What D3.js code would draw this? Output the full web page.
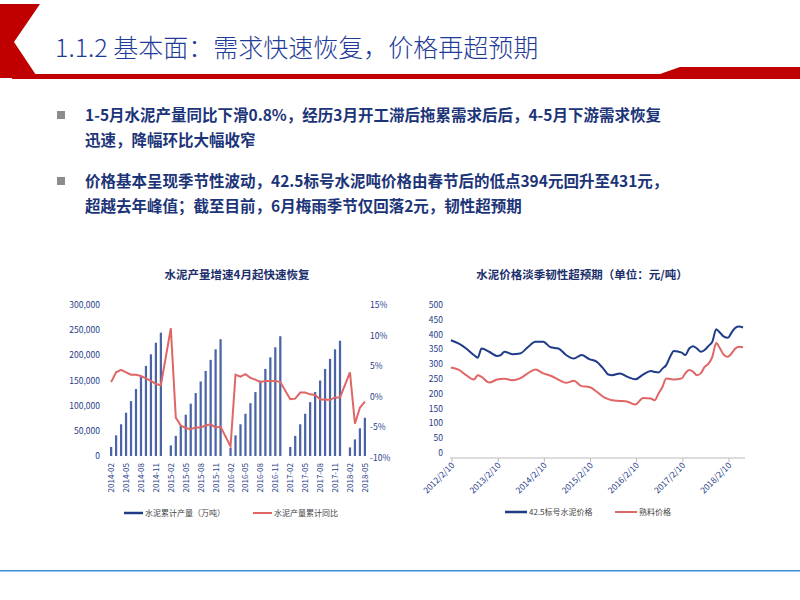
<!DOCTYPE html>
<html><head><meta charset="utf-8">
<script src="https://cdn.jsdelivr.net/npm/d3@7"></script>
<style>body{margin:0;background:#fff}svg{display:block;font-family:"Noto Sans CJK SC","Noto Sans",sans-serif}</style>
</head><body><svg id="c" width="800" height="600"></svg>
<script>
// left chart: monthly, January has no data
const months = [];
for (let y = 2014; y <= 2018; y++) for (let m = 1; m <= 12; m++) {
  if ((y === 2014 && m < 2) || (y === 2018 && m > 5)) continue;
  months.push(y + "-" + String(m).padStart(2, "0"));
}
const output = [18,41,63,86,109,133,157,179,202,225,245, null,
  21,40,61,82,104,125,148,169,191,212,232, null,
  16,41,63,84,105,127,150,173,196,216,238, null,
  18,40,63,84,107,127,150,173,193,212,229, null,
  17,33,55,76].map(v => v == null ? null : v * 1000);
const growth = [2.4,4.0,4.4,4.0,3.6,3.6,3.4,3.0,2.6,2.1,1.9, null,
  11.2,-3.4,-4.7,-5.1,-5.3,-5.0,-5.0,-4.7,-4.5,-5.0,-4.9, null,
  -8.1,3.6,3.3,3.7,3.1,2.8,2.4,2.6,2.6,2.6,2.4, null,
  -0.4,-0.3,0.7,0.7,0.4,0.3,-0.4,-0.5,-0.5,-0.1,-0.1, null,
  4.0,-4.4,-1.8,-0.8];
const leftTicks = [0,50000,100000,150000,200000,250000,300000];
const rightTicks = [-10,-5,0,5,10,15];

// right chart: prices
const priceDates = ["2012-02","2012-04","2012-06","2012-08","2012-09","2012-10","2012-12","2013-02","2013-03","2013-04","2013-06","2013-08","2013-10","2013-12","2014-02","2014-04","2014-06","2014-08","2014-10","2014-12","2015-02","2015-04","2015-06","2015-07","2015-08","2015-10","2015-12","2016-02","2016-04","2016-06","2016-07","2016-08","2016-09","2016-10","2016-11","2016-12","2017-02","2017-03","2017-04","2017-05","2017-06","2017-07","2017-08","2017-09","2017-10","2017-11","2017-12","2018-01","2018-02","2018-03","2018-04","2018-05","2018-06"];
const cement = [381,370,353,331,322,353,342,328,331,342,334,336,357,376,376,357,353,331,319,331,317,308,280,265,263,269,257,249,265,277,274,272,285,297,325,345,339,331,353,361,353,342,348,362,376,418,406,393,389,406,423,427,424];
const clinker = [289,282,263,248,263,257,238,248,250,251,246,252,269,282,269,261,248,237,244,226,223,207,187,182,178,176,173,164,186,184,178,201,223,252,250,248,252,269,280,275,263,269,291,302,325,372,353,331,325,336,353,359,357];
const priceYears = ["2012","2013","2014","2015","2016","2017","2018"];
const priceTicks = [0,50,100,150,200,250,300,350,400,450,500];

const svg = d3.select("#c");
const navy = "#1f3c88", red = "#c00000";

// header
svg.append("path").attr("d","M0,4 L40,4 L14,42 L38,78 L0,78 Z").attr("fill", red);
svg.append("rect").attr("x",12).attr("y",74).attr("width",788).attr("height",5).attr("fill",red);
svg.append("path").attr("d","M660,74 L680,67 L800,67 L800,79 L660,79 Z").attr("fill",red);
svg.append("text").attr("x",55).attr("y",57).attr("fill","#1f3c98").attr("font-size",25)
  .attr("font-family","'Noto Sans CJK SC'").attr("font-weight",300).text("1.1.2 基本面：需求快速恢复，价格再超预期");

const bullets = [
  ["1-5月水泥产量同比下滑0.8%，经历3月开工滞后拖累需求后后，4-5月下游需求恢复", "迅速，降幅环比大幅收窄"],
  ["价格基本呈现季节性波动，42.5标号水泥吨价格由春节后的低点394元回升至431元，", "超越去年峰值；截至目前，6月梅雨季节仅回落2元，韧性超预期"]
];
bullets.forEach((b, i) => {
  const y0 = 121 + i * 66;
  svg.append("rect").attr("x",57).attr("y",y0-10).attr("width",8).attr("height",8).attr("fill","#8c8c8c");
  b.forEach((t, j) => svg.append("text").attr("x",85).attr("y",y0 + j*25).attr("fill","#1c3478")
    .attr("font-size",15.5).attr("font-weight","bold").text(t));
});

// footer
svg.append("rect").attr("x",0).attr("y",570).attr("width",800).attr("height",1.5).attr("fill","#3a8fd8");

// ---- left chart ----
const x1 = d3.scaleBand().domain(months).range([110, 366]).paddingInner(0.55);
const yL = d3.scaleLinear().domain([0,300000]).range([456,305]);
const yR = d3.scaleLinear().domain([-10,15]).range([458,305]);
svg.append("text").attr("x",237).attr("y",279).attr("text-anchor","middle").attr("font-size",11.5)
  .attr("font-weight","bold").attr("fill","#1c2f6b").text("水泥产量增速4月起快速恢复");
svg.append("g").selectAll("rect").data(months.map((m,i)=>[m,output[i]]).filter(d=>d[1]!=null)).join("rect")
  .attr("x",d=>x1(d[0])).attr("width",x1.bandwidth()).attr("y",d=>yL(d[1])).attr("height",d=>yL(0)-yL(d[1]))
  .attr("fill","#4a64a6");
const gl = svg.append("g").attr("font-size",8.5).attr("fill","#1f3c88");
gl.selectAll("text").data(leftTicks).join("text").attr("x",100).attr("y",d=>yL(d)+3).attr("text-anchor","end")
  .text(d => d===0 ? "0" : d3.format(",")(d));
const gr = svg.append("g").attr("font-size",8.5).attr("fill","#1f3c88");
gr.selectAll("text").data(rightTicks).join("text").attr("x",370).attr("y",d=>yR(d)+3).text(d=>d+"%");
const line1 = d3.line().x(d=>x1(d[0])+x1.bandwidth()/2).y(d=>yR(d[1]));
svg.append("path").datum(months.map((m,i)=>[m,growth[i]]).filter(d=>d[1]!=null))
  .attr("d",line1).attr("fill","none").attr("stroke","#e06666").attr("stroke-width",2);
const xl = svg.append("g").attr("font-size",8).attr("fill","#1f3c88");
xl.selectAll("text").data(months.filter((m,i)=>i%3===0)).join("text")
  .attr("transform",d=>`translate(${x1(d)+x1.bandwidth()/2+3},463) rotate(-90)`).attr("text-anchor","end").text(d=>d);
svg.append("line").attr("x1",124).attr("x2",143).attr("y1",513).attr("y2",513).attr("stroke",navy).attr("stroke-width",2.5);
svg.append("text").attr("x",145).attr("y",516).attr("font-size",8).attr("fill","#444").text("水泥累计产量（万吨）");
svg.append("line").attr("x1",253).attr("x2",272).attr("y1",513).attr("y2",513).attr("stroke","#e06666").attr("stroke-width",2);
svg.append("text").attr("x",274).attr("y",516).attr("font-size",8).attr("fill","#444").text("水泥产量累计同比");

// ---- right chart ----
const parse = d3.timeParse("%Y-%m");
const x2 = d3.scaleTime().domain([new Date(2012,1,10), new Date(2018,1,10)]).range([452,729]);
const y2 = d3.scaleLinear().domain([0,500]).range([453,305]);
svg.append("text").attr("x",582).attr("y",279).attr("text-anchor","middle").attr("font-size",11.5)
  .attr("font-weight","bold").attr("fill","#1c2f6b").text("水泥价格淡季韧性超预期（单位：元/吨）");
svg.append("g").attr("font-size",8.5).attr("fill","#1f3c88").selectAll("text").data(priceTicks).join("text")
  .attr("x",443).attr("y",d=>y2(d)+3).attr("text-anchor","end").text(d=>d);
svg.append("line").attr("x1",450).attr("x2",745).attr("y1",458).attr("y2",458).attr("stroke","#bbb");
const yrs = priceYears.map(y=>new Date(+y,1,10));
svg.append("g").selectAll("line").data(yrs).join("line").attr("x1",d=>x2(d)).attr("x2",d=>x2(d))
  .attr("y1",458).attr("y2",462).attr("stroke","#bbb");
svg.append("g").attr("font-size",8.5).attr("fill","#1f3c88").selectAll("text").data(yrs).join("text")
  .attr("transform",d=>`translate(${x2(d)+3},466) rotate(-45)`).attr("text-anchor","end")
  .text(d=>d3.timeFormat("%Y/%-m/%-d")(d));
const line2 = d3.line().curve(d3.curveMonotoneX).x(d=>x2(d[0])).y(d=>y2(d[1]));
svg.append("path").datum(priceDates.map((d,i)=>[parse(d),clinker[i]])).attr("d",line2)
  .attr("fill","none").attr("stroke","#e06666").attr("stroke-width",2);
svg.append("path").datum(priceDates.map((d,i)=>[parse(d),cement[i]])).attr("d",line2)
  .attr("fill","none").attr("stroke",navy).attr("stroke-width",2);
svg.append("line").attr("x1",505).attr("x2",527).attr("y1",512).attr("y2",512).attr("stroke",navy).attr("stroke-width",2.5);
svg.append("text").attr("x",529).attr("y",515).attr("font-size",8).attr("fill","#444").text("42.5标号水泥价格");
svg.append("line").attr("x1",615).attr("x2",637).attr("y1",512).attr("y2",512).attr("stroke","#e06666").attr("stroke-width",2);
svg.append("text").attr("x",639).attr("y",515).attr("font-size",8).attr("fill","#444").text("熟料价格");
</script></body></html>
